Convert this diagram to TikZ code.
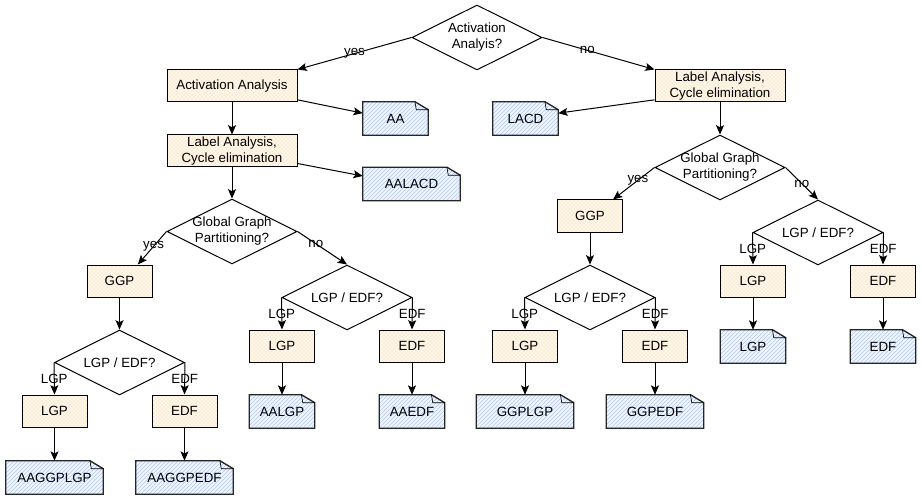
\documentclass[tikz,border=0pt]{standalone}
\usepackage{fontspec}
\setmainfont{Liberation Sans}
\usetikzlibrary{arrows.meta,shapes.geometric,patterns,backgrounds}
\definecolor{procback}{HTML}{FFF7EC}
\definecolor{procdots}{HTML}{F5CD93}
\definecolor{docback}{HTML}{F1F5FC}
\definecolor{doclines}{HTML}{B3C8EA}
\tikzset{
  procbox/.style={draw,line width=.75pt,preaction={fill=procback},pattern=crosshatch dots,pattern color=procdots,minimum width=48.75pt,minimum height=24pt,inner sep=1pt,align=center},
  widebox/.style={procbox,minimum width=97.5pt},
  decide/.style={diamond,draw,fill=white,line width=.75pt,minimum width=97.5pt,minimum height=48.75pt,inner sep=0pt},
  docnode/.style={minimum width=48.75pt,minimum height=24.75pt,inner sep=0pt},
  widedoc/.style={docnode,minimum width=72.75pt},
  docshape/.style={draw=black!85,line width=1pt,preaction={fill=docback},pattern=north east lines,pattern color=doclines},
  flow/.style={-{Stealth[length=7pt,width=6pt,inset=1.5pt]},line width=.75pt},
}

\begin{document}
\begin{tikzpicture}[x=.75pt,y=-.75pt,font=\fontsize{10}{12}\selectfont]
  \useasboundingbox (0,0) rectangle (921,499);
  % top decision
  \node[decide,label={[align=center]center:Activation\\Analyis?}] (act) at (477,37.5) {};
  \node[widebox] (actan) at (232,86) {Activation Analysis};
  \node[widebox] (labl) at (232,151) {Label Analysis,\\Cycle elimination};
  \node[widebox] (labr) at (720,86) {Label Analysis,\\Cycle elimination};
  \node[docnode] (aa) at (395.5,118.5) {AA};
  \node[widedoc] (aalacd) at (411.5,184) {AALACD};
  \node[docnode] (lacd) at (525.5,118.5) {LACD};
  % left branch
  \node[decide,label={[align=center]center:Global Graph\\Partitioning?}] (gga) at (232,231.5) {};
  \node[procbox] (ggpl) at (119.5,281) {GGP};
  \node[decide,label={center:LGP / EDF?}] (lea) at (119.5,362.5) {};
  \node[procbox] (lgpa) at (54.5,411) {LGP};
  \node[procbox] (edfa) at (184.5,411) {EDF};
  \node[widedoc] (aaggplgp) at (54.5,477.5) {AAGGPLGP};
  \node[widedoc] (aaggpedf) at (184.5,477.5) {AAGGPEDF};
  \node[decide,label={center:LGP / EDF?}] (leb) at (347,297.5) {};
  \node[procbox] (lgpb) at (282,346) {LGP};
  \node[procbox] (edfb) at (412,346) {EDF};
  \node[docnode] (aalgp) at (282,411.5) {AALGP};
  \node[docnode] (aaedf) at (412,411.5) {AAEDF};
  % right branch
  \node[decide,label={[align=center]center:Global Graph\\Partitioning?}] (ggb) at (720,167.5) {};
  \node[procbox] (ggpr) at (590,216) {GGP};
  \node[decide,label={center:LGP / EDF?}] (lec) at (590,297.5) {};
  \node[procbox] (lgpc) at (525,346) {LGP};
  \node[procbox] (edfc) at (655,346) {EDF};
  \node[widedoc] (ggplgp) at (525,411.5) {GGPLGP};
  \node[widedoc] (ggpedf) at (655,411.5) {GGPEDF};
  \node[decide,label={center:LGP / EDF?}] (led) at (818,232.5) {};
  \node[procbox] (lgpd) at (753,281) {LGP};
  \node[procbox] (edfd) at (883,281) {EDF};
  \node[docnode] (lgpdoc) at (753,346.5) {LGP};
  \node[docnode] (edfdoc) at (883,346.5) {EDF};
  % document outlines with folded corner
  \begin{scope}[on background layer]
    \foreach \n in {aa,aalacd,lacd,aaggplgp,aaggpedf,aalgp,aaedf,ggplgp,ggpedf,lgpdoc,edfdoc}{
      \draw[docshape] (\n.south west) -- (\n.north west) -- ([xshift=-10pt]\n.north east) -- ([yshift=-6pt]\n.north east) -- (\n.south east) -- cycle;
      \draw[line width=.5pt] ([xshift=-10pt]\n.north east) -- ([xshift=-9pt,yshift=-6pt]\n.north east) -- ([yshift=-6pt]\n.north east);
    }
  \end{scope}
  % connectors
  \draw[flow] (act.west) -- node[pos=.5]{yes} (actan.north east);
  \draw[flow] (act.east) -- node[pos=.4]{no} (labr.north west);
  \draw[flow] ([yshift=2pt]actan.south east) -- ([yshift=4pt]aa.west);
  \draw[flow] ([yshift=2pt]labr.south west) -- ([yshift=4pt]lacd.east);
  \draw[flow] (actan.south) -- (labl.north);
  \draw[flow] ([yshift=3pt]labl.south east) -- ([yshift=6pt]aalacd.west);
  \draw[flow] (labl.south) -- (gga.north);
  \draw[flow] (gga.west) -- node[pos=.45]{yes} ([xshift=-11pt]ggpl.north east);
  \draw[flow] (gga.east) -- node[pos=.37]{no} (leb.north);
  \draw[flow] (ggpl.south) -- (lea.north);
  \draw[flow] (lea.west) -- node{LGP} (lgpa.north);
  \draw[flow] (lea.east) -- node{EDF} (edfa.north);
  \draw[flow] (lgpa.south) -- (aaggplgp.north);
  \draw[flow] (edfa.south) -- (aaggpedf.north);
  \draw[flow] (leb.west) -- node{LGP} (lgpb.north);
  \draw[flow] (leb.east) -- node{EDF} (edfb.north);
  \draw[flow] (lgpb.south) -- (aalgp.north);
  \draw[flow] (edfb.south) -- (aaedf.north);
  \draw[flow] (labr.south) -- (ggb.north);
  \draw[flow] (ggb.west) -- node[pos=.4]{yes} ([xshift=-7.5pt]ggpr.north east);
  \draw[flow] (ggb.east) -- node[pos=.5]{no} (led.north);
  \draw[flow] (ggpr.south) -- (lec.north);
  \draw[flow] (lec.west) -- node{LGP} (lgpc.north);
  \draw[flow] (lec.east) -- node{EDF} (edfc.north);
  \draw[flow] (lgpc.south) -- (ggplgp.north);
  \draw[flow] (edfc.south) -- (ggpedf.north);
  \draw[flow] (led.west) -- node{LGP} (lgpd.north);
  \draw[flow] (led.east) -- node{EDF} (edfd.north);
  \draw[flow] (lgpd.south) -- (lgpdoc.north);
  \draw[flow] (edfd.south) -- (edfdoc.north);
\end{tikzpicture}
\end{document}
